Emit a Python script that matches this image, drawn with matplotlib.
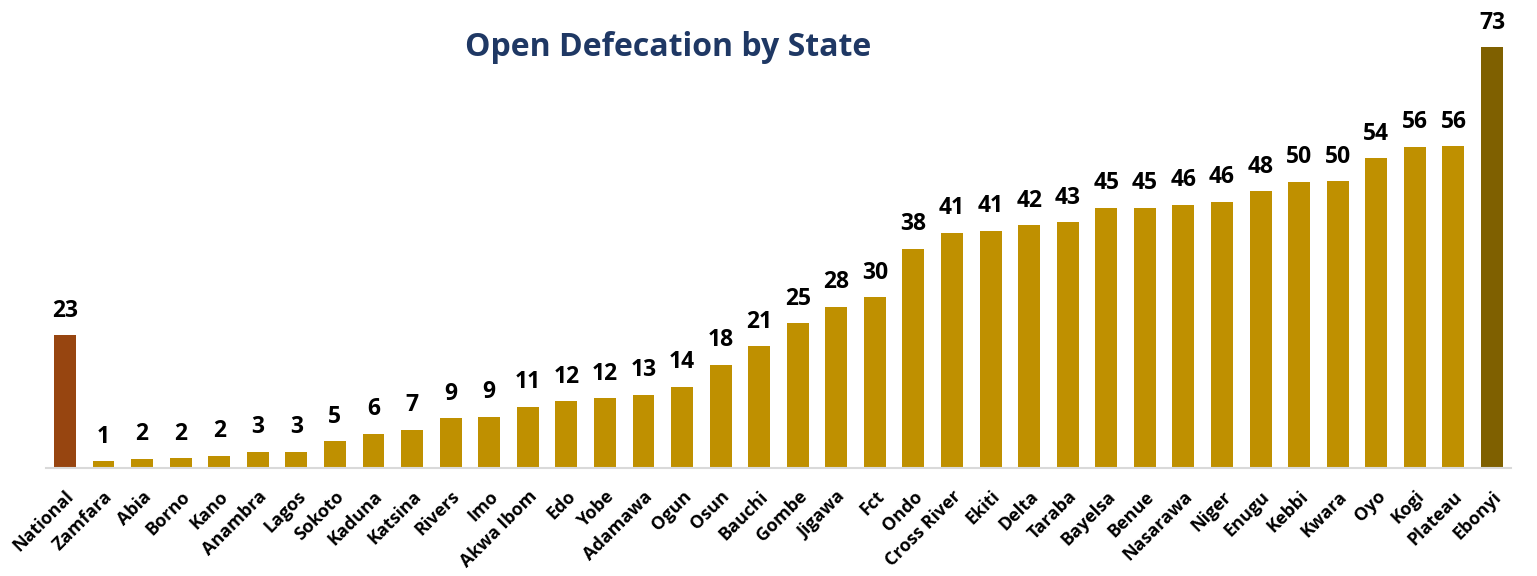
import numpy as np
import matplotlib
matplotlib.use("Agg")
import matplotlib.pyplot as plt

# open defecation share (%) by state
states = ["National", "Zamfara", "Abia", "Borno", "Kano", "Anambra", "Lagos",
          "Sokoto", "Kaduna", "Katsina", "Rivers", "Imo", "Akwa Ibom", "Edo",
          "Yobe", "Adamawa", "Ogun", "Osun", "Bauchi", "Gombe", "Jigawa", "Fct",
          "Ondo", "Cross River", "Ekiti", "Delta", "Taraba", "Bayelsa", "Benue",
          "Nasarawa", "Niger", "Enugu", "Kebbi", "Kwara", "Oyo", "Kogi",
          "Plateau", "Ebonyi"]
values = [23.0, 1.2, 1.6, 1.7, 2.1, 2.8, 2.8, 4.6, 5.9, 6.6, 8.6, 8.9, 10.6,
          11.6, 12.1, 12.7, 14.1, 17.9, 21.1, 25.1, 27.9, 29.6, 38.0, 40.7,
          41.1, 42.0, 42.6, 45.1, 45.1, 45.6, 46.1, 47.9, 49.6, 49.7, 53.6,
          55.6, 55.7, 72.9]

gold = "#BF9000"
colors = [gold] * len(states)
colors[0] = "#974510"
colors[-1] = "#7F6000"

plt.rcParams["font.family"] = ["Open Sans", "DejaVu Sans"]

fig = plt.figure(figsize=(15.37, 5.76), dpi=100)
ax = fig.add_axes([0.0297, 0.1875, 0.9536, 0.802])

x = np.arange(len(states))
bars = ax.bar(x, values, width=0.57, color=colors, zorder=2)

for xi, v in zip(x, values):
    ax.annotate(f"{v:.0f}", (xi, v), xytext=(0, 9), textcoords="offset points",
                ha="center", va="bottom", fontsize=16.5, fontweight="bold",
                color="black")

ax.set_xlim(-0.5, len(states) - 0.5)
ax.set_ylim(0, 80)
ax.set_yticks([])
for side in ["top", "right", "left"]:
    ax.spines[side].set_visible(False)
ax.spines["bottom"].set_color("#D9D9D9")
ax.spines["bottom"].set_linewidth(1.5)

ax.set_xticks(x)
ax.set_xticklabels(states, rotation=45, ha="right", rotation_mode="anchor",
                   fontsize=13, fontweight="bold")
ax.tick_params(axis="x", length=0, pad=14)

fig.text(0.435, 0.918, "Open Defecation by State", ha="center", va="center",
         fontsize=23, fontweight="bold", color="#1F3864")

fig.savefig("out.png", dpi=100)
